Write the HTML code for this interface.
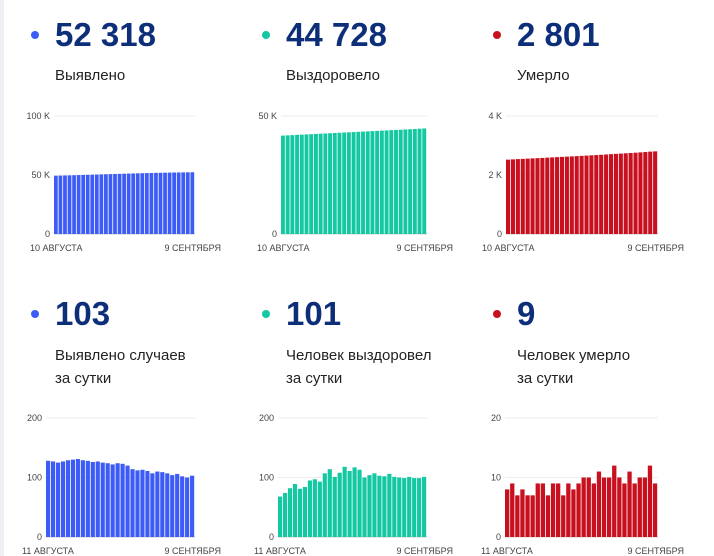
<!DOCTYPE html>
<html><head><meta charset="utf-8">
<style>
body{margin:0;background:#fff;font-family:"Liberation Sans","Noto Sans CJK SC",sans-serif;}
svg{display:block}
.num{font-weight:bold;font-size:33px;fill:#0d2f7a}
.lbl{font-size:15px;fill:#222}
.tick{font-size:9px;fill:#444}
</style></head><body>
<svg id="s" width="714" height="556" xmlns="http://www.w3.org/2000/svg">
<rect x="0" y="0" width="714" height="556" fill="#fff"/>
<rect x="0" y="0" width="4" height="556" fill="#eef0f4"/>
<g><circle cx="35" cy="35" r="4" fill="#3d5cf5"/><text class="num" x="55" y="46">52 318</text><text class="lbl" x="55" y="80">Выявлено</text></g>
<g><circle cx="266" cy="35" r="4" fill="#14c8a2"/><text class="num" x="286" y="46">44 728</text><text class="lbl" x="286" y="80">Выздоровело</text></g>
<g><circle cx="497" cy="35" r="4" fill="#c8101e"/><text class="num" x="517" y="46">2 801</text><text class="lbl" x="517" y="80">Умерло</text></g>
<g><circle cx="35" cy="314" r="4" fill="#3d5cf5"/><text class="num" x="55" y="325">103</text><text class="lbl" x="55" y="360">Выявлено случаев</text><text class="lbl" x="55" y="383">за сутки</text></g>
<g><circle cx="266" cy="314" r="4" fill="#14c8a2"/><text class="num" x="286" y="325">101</text><text class="lbl" x="286" y="360">Человек выздоровел</text><text class="lbl" x="286" y="383">за сутки</text></g>
<g><circle cx="497" cy="314" r="4" fill="#c8101e"/><text class="num" x="517" y="325">9</text><text class="lbl" x="517" y="360">Человек умерло</text><text class="lbl" x="517" y="383">за сутки</text></g>
</svg>
<script>
const confirmedTotal=[49380,49480,49580,49690,49800,49920,50040,50160,50280,50400,50520,50640,50760,50880,50990,51100,51210,51320,51420,51520,51610,51700,51790,51880,51960,52040,52110,52170,52220,52270,52318];
const recoveredTotal=[41700,41800,41900,42000,42100,42200,42300,42400,42500,42600,42700,42800,42900,43000,43100,43200,43300,43400,43500,43600,43700,43800,43900,44000,44100,44200,44300,44400,44500,44620,44728];
const deathsTotal=[2520,2530,2539,2547,2555,2563,2571,2579,2588,2597,2606,2614,2623,2631,2640,2649,2658,2667,2676,2686,2696,2706,2716,2726,2736,2746,2756,2767,2778,2792,2801];
const confirmedDaily=[128,127,125,127,129,130,131,129,128,126,127,125,124,122,124,123,120,114,112,113,111,107,110,109,107,104,106,102,100,103];
const recoveredDaily=[68,74,82,89,81,84,95,97,93,107,114,101,108,118,111,117,113,100,104,107,103,102,106,101,100,99,101,99,99,101];
const deathsDaily=[8,9,7,8,7,7,9,9,7,9,9,7,9,8,9,10,10,9,11,10,10,12,10,9,11,9,10,10,12,9];
const topTicks1=["0","50 K","100 K"], topTicks2=["0","50 K"], topTicks3=["0","2 K","4 K"];
const botTicks1=["0","100","200"], botTicks3=["0","10","20"];
const NS="http://www.w3.org/2000/svg", svg=document.getElementById('s');
function mk(t,a){const e=document.createElementNS(NS,t);for(const k in a)e.setAttribute(k,a[k]);svg.appendChild(e);return e;}
function chart(name,data,max,ticks,tickVals,x0,x1,yTop,yBot,color,d1,d2){
  const y=v=>yBot-(v/max)*(yBot-yTop);
  const bw=(x1-x0)/data.length;
  tickVals.forEach((tv,i)=>{
    const gl=mk('line',{x1:x0,x2:x1,y1:y(tv),y2:y(tv),stroke:i==0?'#ccc':'#eee','stroke-width':1});
    
    
    const t=mk('text',{x:x0-4,y:y(tv)+3,'text-anchor':'end',class:'tick'});t.textContent=ticks[i];
    
    
  });
  data.forEach((v,i)=>{
    const r=mk('rect',{x:x0+i*bw,y:y(v),width:bw-0.8,height:yBot-y(v),fill:color});
    
    
  });
  const a=mk('text',{x:x0-24,y:yBot+17,class:'tick'});a.textContent=d1;
  
  
  const b=mk('text',{x:x1+26,y:yBot+17,'text-anchor':'end',class:'tick'});b.textContent=d2;
  
  
}
chart('confirmed-chart',confirmedTotal,100000,topTicks1,[0,50000,100000],54,195,116,234,'#3d5cf5','10 АВГУСТА','9 СЕНТЯБРЯ');
chart('recovered-chart',recoveredTotal,50000,topTicks2,[0,50000],281,427,116,234,'#14c8a2','10 АВГУСТА','9 СЕНТЯБРЯ');
chart('deaths-chart',deathsTotal,4000,topTicks3,[0,2000,4000],506,658,116,234,'#c8101e','10 АВГУСТА','9 СЕНТЯБРЯ');
chart('daily-confirmed-chart',confirmedDaily,200,botTicks1,[0,100,200],46,195,418,537,'#3d5cf5','11 АВГУСТА','9 СЕНТЯБРЯ');
chart('daily-recovered-chart',recoveredDaily,200,botTicks1,[0,100,200],278,427,418,537,'#14c8a2','11 АВГУСТА','9 СЕНТЯБРЯ');
chart('daily-deaths-chart',deathsDaily,20,botTicks3,[0,10,20],505,658,418,537,'#c8101e','11 АВГУСТА','9 СЕНТЯБРЯ');
</script>
</body></html>
